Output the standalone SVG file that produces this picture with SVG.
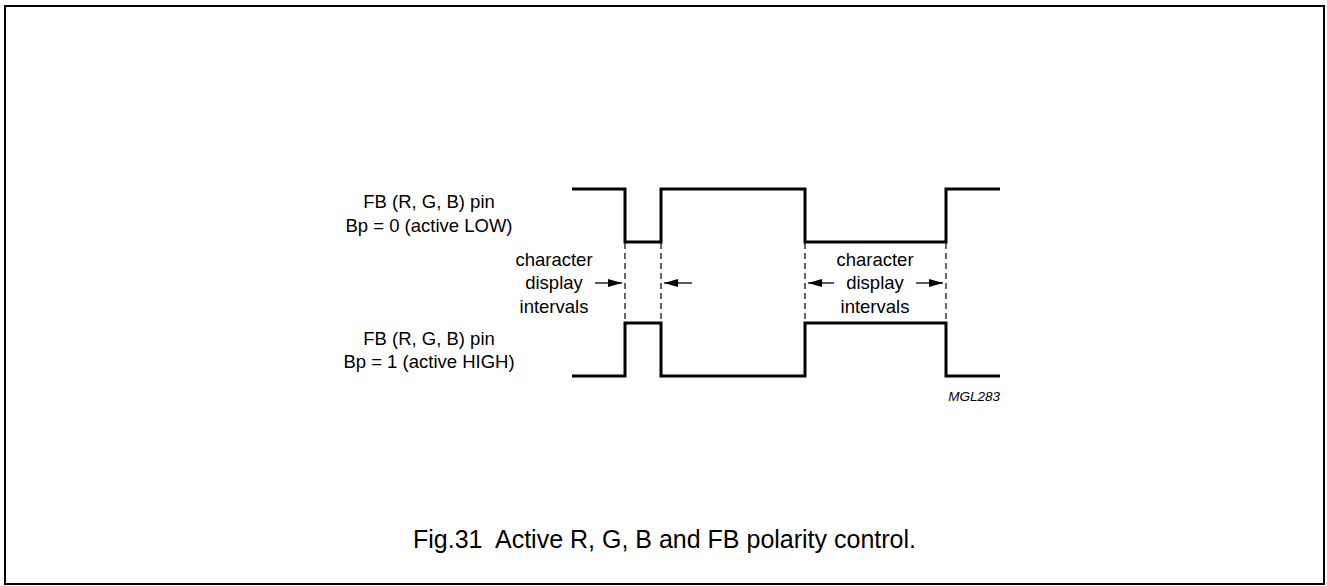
<svg xmlns="http://www.w3.org/2000/svg" width="1327" height="586" viewBox="0 0 1327 586">
<style>
.t{font-family:"Liberation Sans",Arial,sans-serif;fill:#000;}
.lbl{font-size:18.5px;text-anchor:middle;}
.w{fill:none;stroke:#000;stroke-width:3;stroke-linejoin:miter;stroke-linecap:butt;}
.d{fill:none;stroke:#000;stroke-width:1.2;stroke-dasharray:6,4;}
.a{fill:none;stroke:#000;stroke-width:1.3;}
</style>
<defs>
<marker id="ah" viewBox="0 0 14 8" refX="14" refY="4" markerWidth="14" markerHeight="8" markerUnits="userSpaceOnUse" orient="auto">
<path d="M0,0 L14,4 L0,8 Z" fill="#000"/>
</marker>
</defs>
<rect x="5" y="6" width="1319" height="578" fill="#fff" stroke="#000" stroke-width="2"/>
<g id="wave-low">
<polyline class="w" points="572,189 625,189 625,242 661,242 661,189 805,189 805,242 946,242 946,189 1000,189"/>
</g>
<g id="wave-high">
<polyline class="w" points="572,376 625,376 625,323 661,323 661,376 805,376 805,323 946,323 946,376 1000,376"/>
</g>
<g id="connectors">
<line class="d" x1="625" y1="243" x2="625" y2="322"/>
<line class="d" x1="661" y1="243" x2="661" y2="322"/>
<line class="d" x1="805" y1="243" x2="805" y2="322"/>
<line class="d" x1="946" y1="243" x2="946" y2="322"/>
<line class="a" x1="595" y1="283" x2="622" y2="283" marker-end="url(#ah)"/>
<line class="a" x1="692" y1="283" x2="664" y2="283" marker-end="url(#ah)"/>
<line class="a" x1="834" y1="283" x2="808" y2="283" marker-end="url(#ah)"/>
<line class="a" x1="916" y1="283" x2="943" y2="283" marker-end="url(#ah)"/>
</g>
<g id="label-low">
<text class="t lbl" x="429" y="208">FB (R, G, B) pin</text>
<text class="t lbl" x="429" y="232">Bp = 0 (active LOW)</text>
</g>
<g id="label-high">
<text class="t lbl" x="429" y="345">FB (R, G, B) pin</text>
<text class="t lbl" x="429" y="368">Bp = 1 (active HIGH)</text>
</g>
<g id="interval-left">
<text class="t lbl" x="554" y="266">character</text>
<text class="t lbl" x="554" y="289">display</text>
<text class="t lbl" x="554" y="313">intervals</text>
</g>
<g id="interval-right">
<text class="t lbl" x="875" y="266">character</text>
<text class="t lbl" x="875" y="289">display</text>
<text class="t lbl" x="875" y="313">intervals</text>
</g>
<text class="t" x="1000" y="401" font-size="13.5" font-style="italic" text-anchor="end">MGL283</text>
<text class="t" x="413" y="548" font-size="25" xml:space="preserve" style="white-space:pre">Fig.31  Active R, G, B and FB polarity control.</text>
</svg>
